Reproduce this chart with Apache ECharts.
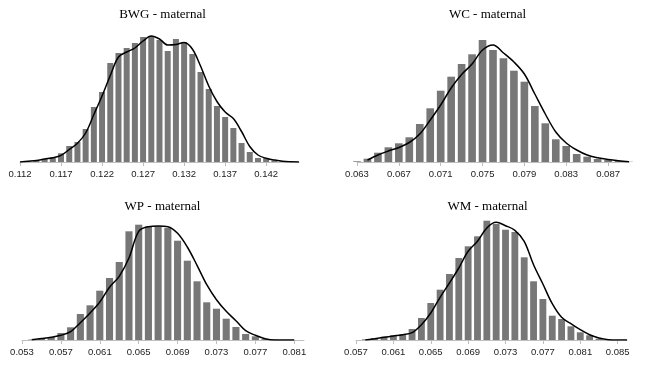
<!DOCTYPE html>
<html>
<head>
<meta charset="utf-8">
<script src="https://cdn.jsdelivr.net/npm/echarts@6.0.0/dist/echarts.min.js"></script>
<style>
  html, body { margin: 0; background: #fff; }
  #main { width: 650px; height: 370px; }
</style>
</head>
<body>
<div id="main"></div>
<script>
// BWG - maternal (bins of 0.001)
const bwgBins = ['0.112','0.113','0.114','0.115','0.116','0.117','0.118','0.119','0.120','0.121','0.122','0.123',
  '0.124','0.125','0.126','0.127','0.128','0.129','0.130','0.131','0.132','0.133','0.134','0.135','0.136','0.137',
  '0.138','0.139','0.140','0.141','0.142','0.143','0.144','0.145','0.146'];
const bwgBars = [0, 0.5, 1.5, 3, 4, 8.7, 16, 20, 33, 55, 70, 99, 109, 114, 119, 125, 126, 122, 111, 123, 120, 108,
  90, 73, 56, 45, 34, 19, 10, 4, 4, 1.5, 0.5, 0, 0];
const bwgCurve = [0, 0.7, 1.5, 3, 4.2, 6.6, 12.5, 18.7, 29, 47.5, 66, 86.5, 105, 110, 114, 121, 126, 123, 117, 117.5,
  119.5, 113, 96, 76, 60.5, 50, 43.5, 30.5, 15.5, 7, 3.7, 2, 0.7, 0.2, 0];

// WC - maternal
const wcBins = ['0.063','0.064','0.065','0.066','0.067','0.068','0.069','0.070','0.071','0.072','0.073','0.074',
  '0.075','0.076','0.077','0.078','0.079','0.080','0.081','0.082','0.083','0.084','0.085','0.086','0.087','0.088','0.089'];
const wcBars = [0.7, 3.3, 9.3, 14.7, 18.7, 24.7, 38, 53.7, 71.3, 85.3, 98, 107.7, 122, 112, 103.7, 91.3, 80.3, 56,
  38.7, 22.7, 16, 8, 5.3, 3, 2, 1, 0.3];
const wcCurve = [null, 2, 7, 11, 14.5, 19.5, 28, 42, 57, 74, 87.5, 98, 112, 117, 109, 100, 88, 68, 48, 30, 19, 12, 7,
  4.3, 2.5, 1.2, 0.2];

// WP - maternal
const wpBins = ['0.053','0.054','0.055','0.056','0.057','0.058','0.059','0.060','0.061','0.062','0.063','0.064',
  '0.065','0.066','0.067','0.068','0.069','0.070','0.071','0.072','0.073','0.074','0.075','0.076','0.077','0.078',
  '0.079','0.080','0.081','0.082'];
const wpBars = [0, 0.5, 2, 3, 7, 12.7, 26, 34.7, 49.3, 62, 78, 108.7, 115.3, 113.7, 113.7, 112, 99.3, 79.3, 58.7,
  37.7, 31.3, 21.3, 13, 6, 3.7, 1, 0.3, 0, 0, 0];
const wpCurve = [null, 0.3, 1.5, 2.8, 4.7, 8.3, 17.3, 27, 38, 52.7, 63.7, 82, 108.7, 113.3, 114, 113.3, 106.7, 93,
  74.7, 55.3, 40.3, 28.7, 19.3, 9.3, 4.7, 1.3, 0, 0, 0, null];

// WM - maternal
const wmBins = ['0.057','0.058','0.059','0.060','0.061','0.062','0.063','0.064','0.065','0.066','0.067','0.068',
  '0.069','0.070','0.071','0.072','0.073','0.074','0.075','0.076','0.077','0.078','0.079','0.080','0.081','0.082',
  '0.083','0.084','0.085','0.086'];
const wmBars = [0, 0.7, 2, 3.3, 4.7, 6, 11, 22, 37, 50.3, 66, 82, 93.7, 103.7, 119.3, 116, 110.3, 108, 82.7, 58.7,
  41, 24.3, 21, 13.7, 7.7, 4.7, 1.3, 0.3, 0, 0];
const wmCurve = [null, 0, 1.3, 2.7, 4, 5.3, 7.3, 15.3, 27, 42.7, 57, 72, 88.7, 98.7, 112, 117.7, 114.3, 109.7, 98.7,
  75.3, 56, 36.3, 22.7, 16.3, 10.3, 5.3, 2, 0.3, 0, 0];

const panels = [
  { title: 'BWG - maternal', bins: bwgBins, bars: bwgBars, curve: bwgCurve, every: 5,
    grid: { left: 20, top: 32, width: 279, height: 130 }, titleLeft: '25%', titleTop: 8 },
  { title: 'WC - maternal', bins: wcBins, bars: wcBars, curve: wcCurve, every: 4,
    grid: { left: 357, top: 32, width: 272, height: 130 }, titleLeft: '75%', titleTop: 8 },
  { title: 'WP - maternal', bins: wpBins, bars: wpBars, curve: wpCurve, every: 4,
    grid: { left: 22, top: 210, width: 282, height: 130 }, titleLeft: '25%', titleTop: 200 },
  { title: 'WM - maternal', bins: wmBins, bars: wmBars, curve: wmCurve, every: 4,
    grid: { left: 356, top: 210, width: 271, height: 130 }, titleLeft: '75%', titleTop: 200 }
];

const chart = echarts.init(document.getElementById('main'), null, { renderer: 'canvas' });

const option = {
  backgroundColor: '#fff',
  animation: false,
  title: panels.map(p => ({
    text: p.title,
    left: p.titleLeft,
    top: p.titleTop,
    textAlign: 'center',
    padding: 0,
    textStyle: { fontFamily: 'Liberation Serif', fontSize: 13, fontWeight: 'normal', color: '#000' }
  })),
  grid: panels.map(p => Object.assign({ containLabel: false }, p.grid)),
  xAxis: panels.map((p, i) => ({
    type: 'category',
    gridIndex: i,
    data: p.bins,
    boundaryGap: false,
    axisLine: { lineStyle: { color: '#bfbfbf', width: 1 } },
    axisTick: {
      interval: idx => idx % p.every === 0,
      length: 4,
      alignWithLabel: true,
      lineStyle: { color: '#bfbfbf' }
    },
    axisLabel: {
      interval: idx => idx % p.every === 0,
      margin: 7,
      color: '#222',
      fontFamily: 'Liberation Sans',
      fontSize: 9.5,
      hideOverlap: false
    },
    splitLine: { show: false }
  })),
  yAxis: panels.map((p, i) => ({
    type: 'value',
    gridIndex: i,
    min: 0,
    max: 130,
    show: false
  })),
  series: panels.flatMap((p, i) => [
    {
      type: 'bar',
      xAxisIndex: i,
      yAxisIndex: i,
      data: p.bars,
      barCategoryGap: '27%',
      itemStyle: { color: '#777777' },
      silent: true
    },
    {
      type: 'line',
      xAxisIndex: i,
      yAxisIndex: i,
      data: p.curve,
      smooth: 0.35,
      symbol: 'none',
      lineStyle: { color: '#000', width: 1.5 },
      z: 5,
      silent: true
    }
  ])
};

chart.setOption(option);
</script>
</body>
</html>
